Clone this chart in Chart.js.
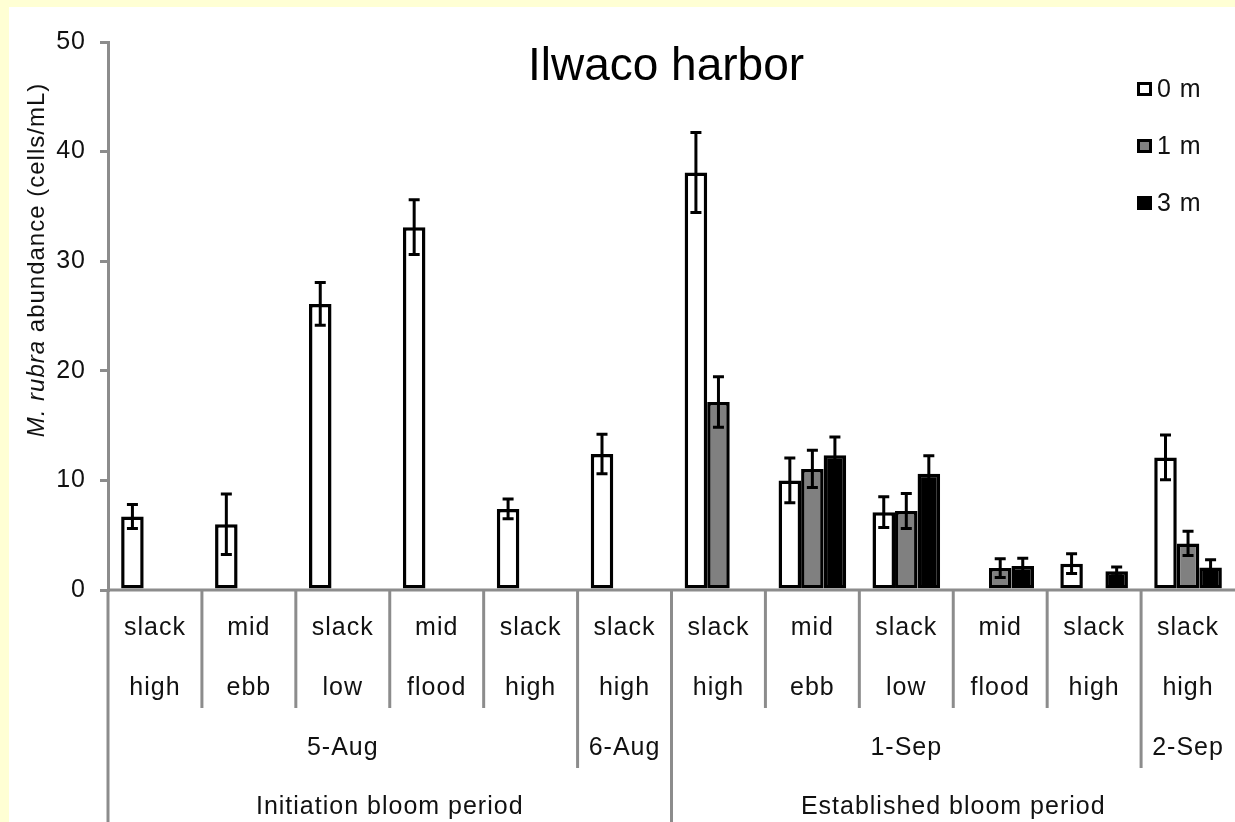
<!DOCTYPE html>
<html>
<head>
<meta charset="utf-8">
<script src="https://cdn.jsdelivr.net/npm/chart.js@4.4.1/dist/chart.umd.min.js"></script>
<style>
  html, body { margin: 0; padding: 0; background: #FFFFD4; }
  #wrap { width: 1235px; height: 822px; }
  canvas { display: block; }
</style>
</head>
<body>
<div id="wrap"><canvas id="c" width="1235" height="822"></canvas></div>
<script>
// Tidal stage of each sample (two-line category labels)
const tideLabels = [
  ['slack', 'high'], ['mid', 'ebb'], ['slack', 'low'], ['mid', 'flood'], ['slack', 'high'],
  ['slack', 'high'],
  ['slack', 'high'], ['mid', 'ebb'], ['slack', 'low'], ['mid', 'flood'], ['slack', 'high'],
  ['slack', 'high']
];
// Sampling dates and how many tidal samples each covers
const dateLabels = ['5-Aug', '6-Aug', '1-Sep', '2-Sep'];
const dateSpans = [5, 1, 5, 1];
// Bloom periods and how many tidal samples each covers
const periodLabels = ['Initiation bloom period', 'Established bloom period'];
const periodSpans = [6, 6];

// Depth series: mean abundance (cells/mL) and error
const depthLabels = ['0 m', '1 m', '3 m'];
const surface0m = [6.7, 6.0, 26.1, 33.1, 7.4, 12.4, 38.1, 10.0, 7.1, null, 2.4, 12.1];
const surface0mErr = [1.1, 2.75, 1.95, 2.5, 0.9, 1.8, 3.65, 2.05, 1.4, null, 0.9, 2.05];
const depth1m = [null, null, null, null, null, null, 17.15, 11.05, 7.2, 2.0, null, 4.25];
const depth1mErr = [null, null, null, null, null, null, 2.3, 1.7, 1.6, 0.85, null, 1.1];
const depth3m = [null, null, null, null, null, null, null, 12.3, 10.6, 2.2, 1.7, 2.05];
const depth3mErr = [null, null, null, null, null, null, null, 1.65, 1.65, 0.7, 0.4, 0.7];

const yTicks = [0, 10, 20, 30, 40, 50];

const FONT = "'Liberation Sans', Arial, sans-serif";
const AXIS_GRAY = '#8c8c8c';
const TEXT = '#111';
const SPACING = '1px';

// White plot panel on the pale yellow page
const panelPlugin = {
  id: 'panel',
  beforeUpdate(chart) { chart.ctx.letterSpacing = SPACING; },
  beforeDraw(chart) {
    const ctx = chart.ctx;
    ctx.save();
    ctx.fillStyle = '#FFFFD4';
    ctx.fillRect(0, 0, chart.width, chart.height);
    ctx.fillStyle = '#FFFFFF';
    ctx.fillRect(9, 7, chart.width - 9, chart.height - 7);
    ctx.restore();
    ctx.letterSpacing = SPACING;
  }
};

// Symmetric error bars with caps on every bar
const errorBarPlugin = {
  id: 'errorBars',
  afterDatasetsDraw(chart) {
    const ctx = chart.ctx;
    const y = chart.scales.y;
    ctx.save();
    ctx.strokeStyle = '#000';
    ctx.lineWidth = 3;
    chart.data.datasets.forEach((ds, i) => {
      const meta = chart.getDatasetMeta(i);
      meta.data.forEach((bar, j) => {
        const v = ds.data[j];
        const e = ds.errors[j];
        if (v == null || e == null) return;
        const x = bar.x;
        const yt = y.getPixelForValue(v + e);
        const yb = y.getPixelForValue(v - e);
        ctx.beginPath();
        ctx.moveTo(x, yt); ctx.lineTo(x, yb);
        ctx.moveTo(x - 5.5, yt); ctx.lineTo(x + 5.5, yt);
        ctx.moveTo(x - 5.5, yb); ctx.lineTo(x + 5.5, yb);
        ctx.stroke();
      });
    });
    ctx.restore();
  }
};

// Axis line, category dividers, date and period rows, title, legend, y title
const decorPlugin = {
  id: 'decor',
  afterDraw(chart) {
    const ctx = chart.ctx;
    const xs = chart.scales.x;
    const area = chart.chartArea;
    const base = area.bottom;
    const step = xs.getPixelForValue(1) - xs.getPixelForValue(0);
    const edge = k => xs.getPixelForValue(0) - step / 2 + k * step;

    ctx.save();
    ctx.letterSpacing = SPACING;
    ctx.strokeStyle = AXIS_GRAY;
    ctx.lineWidth = 3;

    // x axis line
    ctx.beginPath();
    ctx.moveTo(area.left, base);
    ctx.lineTo(area.right, base);
    ctx.stroke();

    // left axis continues down through the label rows
    ctx.beginPath();
    ctx.moveTo(area.left, base);
    ctx.lineTo(area.left, chart.height);
    ctx.stroke();

    // boundaries of dates and periods
    const dateEdges = new Set();
    let acc = 0;
    dateSpans.forEach(s => { acc += s; dateEdges.add(acc); });
    const periodEdges = new Set();
    acc = 0;
    periodSpans.forEach(s => { acc += s; periodEdges.add(acc); });

    for (let k = 1; k < tideLabels.length; k++) {
      let bottom = base + 118;
      if (dateEdges.has(k)) bottom = base + 178;
      if (periodEdges.has(k)) bottom = chart.height;
      const x = edge(k);
      ctx.beginPath();
      ctx.moveTo(x, base);
      ctx.lineTo(x, bottom);
      ctx.stroke();
    }

    // date row
    ctx.fillStyle = TEXT;
    ctx.textAlign = 'center';
    ctx.textBaseline = 'middle';
    ctx.font = `25px ${FONT}`;
    acc = 0;
    dateLabels.forEach((lab, i) => {
      const a = edge(acc), b = Math.min(edge(acc + dateSpans[i]), area.right);
      ctx.fillText(lab, (a + b) / 2, base + 158);
      acc += dateSpans[i];
    });
    // period row
    acc = 0;
    periodLabels.forEach((lab, i) => {
      const a = edge(acc), b = Math.min(edge(acc + periodSpans[i]), area.right);
      ctx.fillText(lab, (a + b) / 2, base + 217);
      acc += periodSpans[i];
    });

    // title
    ctx.letterSpacing = '0px';
    ctx.fillStyle = '#000';
    ctx.font = `46px ${FONT}`;
    ctx.textBaseline = 'alphabetic';
    ctx.fillText('Ilwaco harbor', 666, 80);
    ctx.letterSpacing = SPACING;

    // legend
    ctx.font = `25px ${FONT}`;
    ctx.textAlign = 'left';
    ctx.textBaseline = 'middle';
    chart.data.datasets.forEach((ds, i) => {
      const cy = 89 + i * 57;
      ctx.fillStyle = '#000';
      ctx.fillRect(1137, cy - 7, 15, 14);
      ctx.fillStyle = ds.backgroundColor;
      ctx.fillRect(1140, cy - 4, 9, 8);
      ctx.fillStyle = TEXT;
      ctx.fillText(ds.label, 1157, cy + 1);
    });

    // y axis title with italic species name
    ctx.translate(44, 260);
    ctx.rotate(-Math.PI / 2);
    ctx.textBaseline = 'alphabetic';
    const partA = 'M. rubra';
    const partB = ' abundance (cells/mL)';
    ctx.font = `italic 24px ${FONT}`;
    const wA = ctx.measureText(partA).width;
    ctx.font = `24px ${FONT}`;
    const wB = ctx.measureText(partB).width;
    const start = -(wA + wB) / 2;
    ctx.font = `italic 24px ${FONT}`;
    ctx.fillText(partA, start, 0);
    ctx.font = `24px ${FONT}`;
    ctx.fillText(partB, start + wA, 0);

    ctx.restore();
  }
};

const barStyle = { borderColor: '#000', borderWidth: 3.5, borderSkipped: false };

new Chart(document.getElementById('c'), {
  type: 'bar',
  data: {
    labels: tideLabels,
    datasets: [
      { label: depthLabels[0], data: surface0m, errors: surface0mErr, backgroundColor: '#FFFFFF', ...barStyle },
      { label: depthLabels[1], data: depth1m, errors: depth1mErr, backgroundColor: '#808080', ...barStyle },
      { label: depthLabels[2], data: depth3m, errors: depth3mErr, backgroundColor: '#000000', ...barStyle }
    ]
  },
  options: {
    responsive: false,
    devicePixelRatio: 1,
    animation: false,
    layout: { padding: { top: 42, left: 0, right: 0, bottom: 0 } },
    categoryPercentage: 0.72,
    barPercentage: 1.0,
    plugins: {
      legend: { display: false },
      title: { display: false },
      tooltip: { enabled: false }
    },
    scales: {
      x: {
        grid: { display: false, drawTicks: false },
        border: { display: false },
        ticks: {
          color: TEXT,
          padding: 8,
          maxRotation: 0,
          autoSkip: false,
          font: { family: FONT, size: 25, lineHeight: 2.4 }
        },
        afterFit(s) { s.height = 232; }
      },
      y: {
        min: 0,
        max: 50,
        afterBuildTicks(s) { s.ticks = yTicks.map(v => ({ value: v })); },
        grid: { drawOnChartArea: false, drawTicks: true, tickLength: 8, color: AXIS_GRAY, lineWidth: 3 },
        border: { display: true, color: AXIS_GRAY, width: 3 },
        ticks: {
          color: TEXT,
          padding: 14,
          font: { family: FONT, size: 25 }
        },
        afterFit(s) { s.width = 108; }
      }
    }
  },
  plugins: [panelPlugin, errorBarPlugin, decorPlugin]
});
</script>
</body>
</html>
